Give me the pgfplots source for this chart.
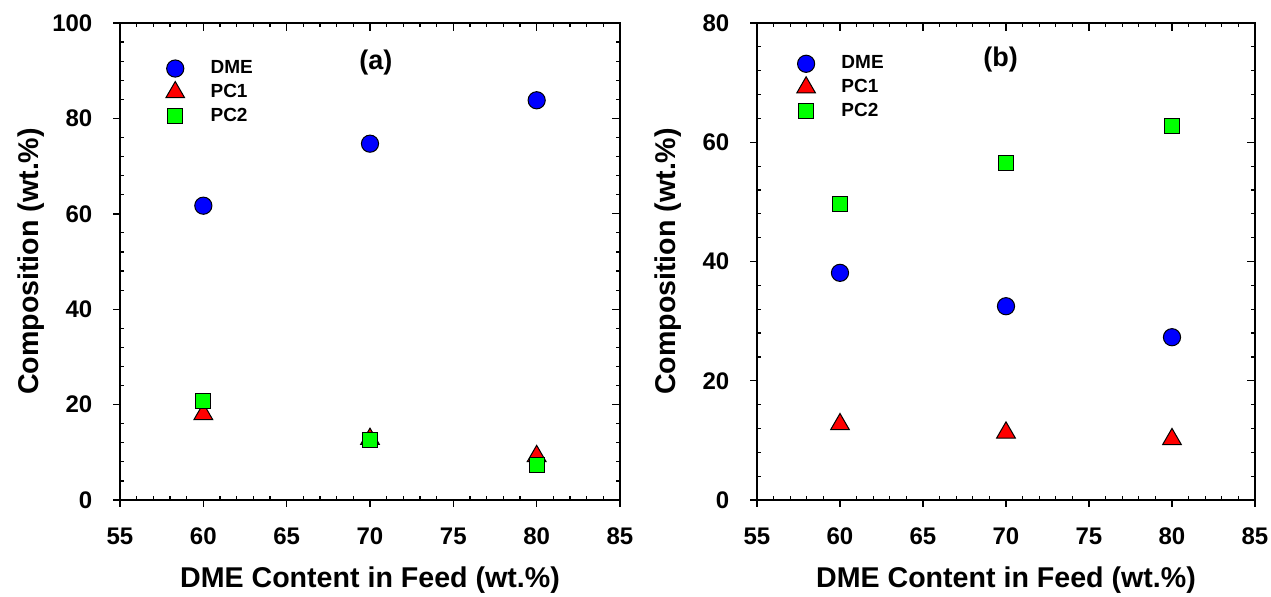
\documentclass[border=0pt]{standalone}
\usepackage{pgfplots}
\pgfplotsset{compat=1.18}
\usepackage{fontspec}
\setmainfont{Liberation Sans}

\definecolor{dmeblue}{RGB}{0,0,255}
\definecolor{pcred}{RGB}{255,0,0}
\definecolor{pcgreen}{RGB}{0,255,0}

\pgfplotsset{
  panel/.style={scale only axis, height=238.5pt,
    xmin=55, xmax=85, xtick={55,60,...,85}, ymin=0},
  blank/.style={axis line style={draw=none}, xticklabels={}, yticklabels={},
    tick style={black, line width=0.6pt}},
  % outward major ticks with labels, left and bottom
  front/.style={panel, tick align=outside, xtick pos=left, ytick pos=left,
    minor tick num=0, major tick length=3.3pt,
    axis line style={line width=0.8pt},
    tick style={black, line width=0.7pt},
    /pgf/number format/assume math mode=true,
    tick label style={font=\bfseries\fontsize{12}{14}\selectfont},
    xticklabel style={yshift=-7pt},
    yticklabel style={xshift=-7pt},
    every axis x label/.style={at={(axis description cs:0.5,-0.168)}, anchor=center,
      font=\bfseries\fontsize{14.3}{16}\selectfont},
    every axis y label/.style={at={(axis description cs:-0.178,0.5)}, anchor=center, rotate=90,
      font=\bfseries\fontsize{14.3}{16}\selectfont},
    legend style={draw=none, fill=none, anchor=north west,
      font=\bfseries\fontsize{9.5}{11}\selectfont, row sep=-0.2pt,
      /tikz/every odd column/.append style={column sep=11pt}},
    legend cell align=left},
  minorin/.style={panel, blank, tick align=inside, xtick pos=both, ytick pos=both,
    minor tick num=4, major tick length=0pt, minor tick length=2pt},
  majorin/.style={panel, blank, tick align=inside, xtick pos=right, ytick pos=right,
    minor tick num=0, major tick length=3.8pt},
  dme/.style={only marks, mark=*, mark size=4.3pt, mark options={fill=dmeblue, draw=black, line width=0.5pt}},
  pc1/.style={only marks, mark=triangle*, mark size=5.4pt, mark options={fill=pcred, draw=black, line width=0.5pt}},
  pc2/.style={only marks, mark=square*, mark size=3.75pt, mark options={fill=pcgreen, draw=black, line width=0.5pt}},
}

\begin{document}
\begin{tikzpicture}
\path[use as bounding box] (0pt,0pt) rectangle (635.5pt,298pt);

% ---- panel (a)
\begin{axis}[minorin, at={(60pt,48pt)}, anchor=south west, width=250pt, ymax=100, ytick={0,20,...,100}]
\end{axis}
\begin{axis}[majorin, at={(60pt,48pt)}, anchor=south west, width=250pt, ymax=100, ytick={0,20,...,100}]
\end{axis}
\begin{axis}[front, at={(60pt,48pt)}, anchor=south west, width=250pt, ymax=100, ytick={0,20,...,100},
  xlabel={DME Content in Feed (wt.\%)}, ylabel={Composition (wt.\%)},
  legend style={at={(axis description cs:0.079,0.939)}}]
\addplot[dme] coordinates {(60,61.7) (70,74.7) (80,83.8)};
\addlegendentry{DME}
\addplot[pc1] coordinates {(60,18.0) (70,12.8) (80,9.2)};
\addlegendentry{PC1}
\addplot[pc2] coordinates {(60,20.8) (70,12.5) (80,7.3)};
\addlegendentry{PC2}
\node[font=\bfseries\fontsize{13.5}{15}\selectfont] at (axis description cs:0.512,0.918) {(a)};
\end{axis}

% ---- panel (b)
\begin{axis}[minorin, at={(378.5pt,48pt)}, anchor=south west, width=249pt, ymax=80, ytick={0,20,...,80}]
\end{axis}
\begin{axis}[majorin, at={(378.5pt,48pt)}, anchor=south west, width=249pt, ymax=80, ytick={0,20,...,80}]
\end{axis}
\begin{axis}[front, at={(378.5pt,48pt)}, anchor=south west, width=249pt, ymax=80, ytick={0,20,...,80},
  xlabel={DME Content in Feed (wt.\%)}, ylabel={Composition (wt.\%)},
  legend style={at={(axis description cs:0.067,0.949)}}]
\addplot[dme] coordinates {(60,38.1) (70,32.5) (80,27.3)};
\addlegendentry{DME}
\addplot[pc1] coordinates {(60,12.7) (70,11.3) (80,10.2)};
\addlegendentry{PC1}
\addplot[pc2] coordinates {(60,49.6) (70,56.5) (80,62.8)};
\addlegendentry{PC2}
\node[font=\bfseries\fontsize{13.5}{15}\selectfont] at (axis description cs:0.489,0.923) {(b)};
\end{axis}
\end{tikzpicture}
\end{document}
